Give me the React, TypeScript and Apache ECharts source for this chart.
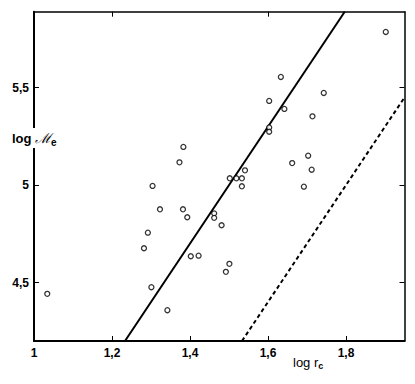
import React, { useEffect, useRef } from "react";
import * as echarts from "echarts";

const logR = [
  1.034, 1.383, 1.373, 1.304, 1.323, 1.382, 1.393, 1.292, 1.282, 1.402, 1.422, 1.301,
  1.342, 1.462, 1.462, 1.481, 1.501, 1.492, 1.502, 1.519, 1.533, 1.541, 1.533, 1.633,
  1.603, 1.642, 1.743, 1.714, 1.603, 1.603, 1.703, 1.662, 1.712, 1.692, 1.902,
];
const logM = [
  4.442, 5.196, 5.117, 4.996, 4.876, 4.876, 4.835, 4.756, 4.676, 4.635, 4.638, 4.476,
  4.358, 4.855, 4.832, 4.794, 4.596, 4.555, 5.035, 5.035, 5.035, 5.076, 4.994, 5.555,
  5.432, 5.391, 5.473, 5.353, 5.296, 5.274, 5.151, 5.113, 5.079, 4.992, 5.786,
];
const solidLineX = [1.2333, 1.7967];
const solidLineY = [4.2, 5.89];
const dashedLineX = [1.5333, 1.95];
const dashedLineY = [4.2, 5.45];

const xTickValues = [1, 1.2, 1.4, 1.6, 1.8];
const xTickLabels = ["1", "1,2", "1,4", "1,6", "1,8"];
const yTickValues = [4.5, 5, 5.5];
const yTickLabels = ["4,5", "5", "5,5"];

const FONT = "Liberation Sans";

export default function App() {
  const ref = useRef<HTMLDivElement>(null);
  useEffect(() => {
    if (!ref.current) return;
    const chart = echarts.init(ref.current, null, { renderer: "svg" });
    const xFmt = (v: number) => {
      const i = xTickValues.findIndex((t) => Math.abs(t - v) < 1e-6);
      return i >= 0 ? xTickLabels[i] : "";
    };
    const yFmt = (v: number) => {
      const i = yTickValues.findIndex((t) => Math.abs(t - v) < 1e-6);
      return i >= 0 ? yTickLabels[i] : "";
    };
    const axisBase = {
      type: "value" as const,
      splitLine: { show: false },
      axisTick: { show: true, inside: true, length: 5, lineStyle: { color: "#000", width: 1 } },
    };
    chart.setOption({
      animation: false,
      backgroundColor: "#fff",
      grid: { left: 34, right: 10.5, top: 11.7, bottom: 43, containLabel: false },
      xAxis: [
        {
          ...axisBase,
          position: "bottom",
          min: 1,
          max: 1.95,
          axisLine: { show: true, onZero: false, lineStyle: { color: "#000", width: 2 } },
          axisTick: { ...axisBase.axisTick, customValues: [1.2, 1.4, 1.6, 1.8] },
          axisLabel: {
            customValues: xTickValues,
            formatter: xFmt,
            color: "#000",
            fontFamily: FONT,
            fontWeight: "bold",
            fontSize: 12,
            margin: 6,
          },
        },
        {
          ...axisBase,
          position: "top",
          min: 1,
          max: 1.95,
          axisLine: { show: true, onZero: false, lineStyle: { color: "#000", width: 1.5 } },
          axisTick: { ...axisBase.axisTick, customValues: [1.2, 1.6] },
          axisLabel: { show: false },
        },
      ],
      yAxis: [
        {
          ...axisBase,
          position: "left",
          min: 4.2,
          max: 5.89,
          axisLine: { show: true, onZero: false, lineStyle: { color: "#000", width: 2 } },
          axisTick: { ...axisBase.axisTick, customValues: yTickValues },
          axisLabel: {
            customValues: yTickValues,
            formatter: yFmt,
            color: "#000",
            fontFamily: FONT,
            fontWeight: "bold",
            fontSize: 12,
            margin: 5,
          },
        },
        {
          ...axisBase,
          position: "right",
          min: 4.2,
          max: 5.89,
          axisLine: { show: true, onZero: false, lineStyle: { color: "#000", width: 1.5 } },
          axisTick: { ...axisBase.axisTick, customValues: yTickValues },
          axisLabel: { show: false },
        },
      ],
      series: [
        {
          type: "line",
          data: solidLineX.map((x, i) => [x, solidLineY[i]]),
          showSymbol: false,
          lineStyle: { color: "#000", width: 2 },
          clip: true,
        },
        {
          type: "line",
          data: dashedLineX.map((x, i) => [x, dashedLineY[i]]),
          showSymbol: false,
          lineStyle: { color: "#000", width: 2, type: [4, 3] },
          clip: true,
        },
        {
          type: "scatter",
          data: logR.map((x, i) => [x, logM[i]]),
          symbol: "circle",
          symbolSize: 5,
          itemStyle: { color: "#fff", borderColor: "#000", borderWidth: 1.3 },
          z: 5,
        },
      ],
      graphic: [
        {
          type: "text",
          left: 11,
          top: 128,
          z: 100,
          style: {
            text: "{a|log }{m|ℳ}{s|e}",
            backgroundColor: "#fff",
            padding: [1, 1, 1, 1],
            rich: {
              a: { fontFamily: FONT, fontWeight: "bold", fontSize: 13, fill: "#000" },
              m: { fontFamily: "DejaVu Serif", fontStyle: "italic", fontSize: 14, fill: "#000" },
              s: { fontFamily: FONT, fontWeight: "bold", fontSize: 10, fill: "#000", padding: [8, 0, 0, 0] },
            },
          },
        },
        {
          type: "text",
          left: 293,
          top: 356,
          z: 100,
          style: {
            text: "{a|log r}{s|c}",
            rich: {
              a: { fontFamily: FONT, fontSize: 13, fill: "#000" },
              s: { fontFamily: FONT, fontWeight: "bold", fontSize: 9, fill: "#000", padding: [7, 0, 0, 0] },
            },
          },
        },
      ],
    });
    return () => chart.dispose();
  }, []);
  return (
    <div
      ref={ref}
      style={{ position: "fixed", left: 0, top: 0, width: 415, height: 384, background: "#fff" }}
    />
  );
}
